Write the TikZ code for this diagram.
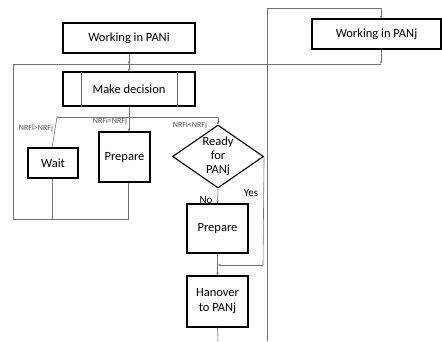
\documentclass[tikz,border=0pt]{standalone}
\usepackage{fontspec}
\setmainfont{Carlito}
\usetikzlibrary{shapes.geometric,arrows.meta}
\begin{document}
\begin{tikzpicture}[x=1pt,y=-1pt,
  box/.style={draw=black,line width=1.1pt,rectangle,inner sep=0pt,font=\fontsize{12.5}{15}\selectfont,align=center},
  conn/.style={draw=black!55,line width=0.6pt},
  arr/.style={conn,-{Stealth[length=3pt,width=2.5pt]}},
  lab/.style={font=\fontsize{8}{9}\selectfont,text=black!70,inner sep=0pt},
  yn/.style={font=\fontsize{11}{12}\selectfont,inner sep=0pt}]
\useasboundingbox (0,0) rectangle (442,341);
% nodes
\node[box,minimum width=132pt,minimum height=30pt] (pani) at (129,38) {Working in PANi};
\node[box,minimum width=132pt,minimum height=34pt] (mdec) at (129,89) {Make decision};
\draw[line width=0.6pt,black!60] (81,72) -- (81,106) (177,72) -- (177,106);
\node[box,minimum width=50pt,minimum height=30pt] (wait) at (53,163) {Wait};
\node[box,minimum width=51pt,minimum height=50pt] (prep1) at (124.5,157) {Prepare};
\node[box,diamond,minimum width=91pt,minimum height=63pt,aspect=1.45,inner sep=0pt,font=\fontsize{12.5}{14}\selectfont] (dia) at (218,156.5) {Ready\\for\\PANj};
\node[box,minimum width=61pt,minimum height=49pt] (prep2) at (217.5,228.5) {Prepare};
\node[box,minimum width=61pt,minimum height=51pt] (hand) at (217.5,301.5) {Hanover\\to PANj};
\node[box,minimum width=129pt,minimum height=30pt] (panj) at (376.5,34) {Working in PANj};
% coordinates
\coordinate (jtop) at (129,64);
\coordinate (pjb) at (381,64);
\coordinate (ltop) at (13,64);
\coordinate (lbot) at (13,219);
\coordinate (pbot) at (128,219);
\coordinate (wbot) at (52,219);
\coordinate (br) at (129,117);
\coordinate (brl) at (57,117);
\coordinate (brr) at (218,117);
\coordinate (yesc) at (263,265);
\coordinate (yesj) at (218,265);
\coordinate (endh) at (218,341);
\coordinate (vb) at (267,341);
\coordinate (vt) at (267,8);
\coordinate (ht) at (381,8);
% connectors
\draw[arr] (pani.south) -- (mdec.north);
\draw[arr] (pani.south) -- (jtop);
\draw[arr] (panj.south -| pjb) -- (pjb);
\draw[conn] (pjb) -- (ltop) -- (lbot) -- (pbot) -- (prep1.south -| pbot);
\draw[conn] (wait.south -| wbot) -- (wbot);
\draw[conn] (mdec.south) -- (br);
\draw[arr] (br) -- (prep1.north -| br);
\draw[arr] (brl) -- (brr) -- (dia.north);
\draw[conn] (brl) -- (wait.north -| wbot);
\draw[arr] (dia.south) -- (prep2.north);
\draw[arr] (prep2.south) -- (hand.north);
\draw[conn] (dia.east) -- (yesc);
\draw[arr] (yesc) -- (yesj);
\draw[conn] (hand.south) -- (endh);
\draw[conn] (vb) -- (vt) -- (ht);
\draw[arr] (ht) -- (panj.north -| ht);
% labels
\node[lab] (l1) at (36,128) {NRFi>NRFj};
\node[lab] (l2) at (110,121) {NRFi=NRFj};
\node[lab] (l3) at (190,125) {NRFi<NRFj};
\node[yn] (yes) at (251,193) {Yes};
\node[yn] (no) at (206,200) {No};
\end{tikzpicture}
\end{document}
